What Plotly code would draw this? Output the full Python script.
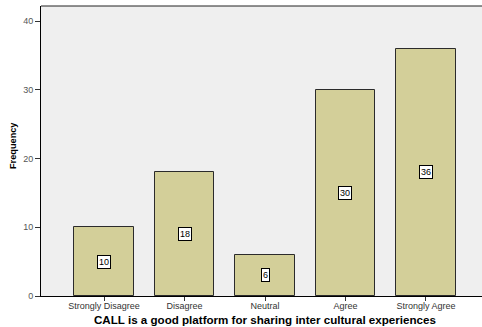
import plotly.graph_objects as go

# Survey responses
categories = ["Strongly Disagree", "Disagree", "Neutral", "Agree", "Strongly Agree"]
frequency = [10, 18, 6, 30, 36]
y_ticks = [0, 10, 20, 30, 40]

x_title = "CALL is a good platform for sharing inter cultural experiences"
y_title = "Frequency"

FONT = "Liberation Sans, Arial, sans-serif"
BAR_FILL = "#D3CF99"
PLOT_BG = "#EFEFEF"

xpos = list(range(len(categories)))

fig = go.Figure()
fig.add_trace(go.Bar(
    x=xpos,
    y=frequency,
    width=0.745,
    marker=dict(color=BAR_FILL, line=dict(color="#2b2b2b", width=1)),
    hoverinfo="skip",
))

# value labels boxed at mid-height of each bar
annotations = []
for xi, v in zip(xpos, frequency):
    annotations.append(dict(
        x=xi, y=v / 2, xref="x", yref="y", text=str(v), showarrow=False,
        font=dict(family=FONT, size=9, color="#000000"),
        bgcolor="#FFFFFF", bordercolor="#000000", borderwidth=1, borderpad=1,
    ))

# axis titles
annotations.append(dict(
    x=0.5, y=0, xref="paper", yref="paper", xshift=3, yshift=-23, yanchor="middle",
    text=f"<b>{x_title}</b>", showarrow=False,
    font=dict(family=FONT, size=11.6, color="#000000"),
))
annotations.append(dict(
    x=0, y=0.5, xref="paper", yref="paper", xshift=-28, yshift=5, xanchor="center",
    text=f"<b>{y_title}</b>", showarrow=False, textangle=-90,
    font=dict(family=FONT, size=9.2, color="#000000"),
))

fig.update_layout(
    width=482, height=327,
    margin=dict(l=41, r=0, t=6, b=31),
    paper_bgcolor="#FFFFFF",
    plot_bgcolor=PLOT_BG,
    showlegend=False,
    annotations=annotations,
    bargap=0,
)
fig.update_xaxes(
    range=[-0.783, 4.696],
    tickmode="array", tickvals=xpos, ticktext=categories,
    ticks="outside", ticklen=4, tickcolor="#333333", tickwidth=1,
    ticklabelstandoff=-3,
    tickfont=dict(family=FONT, size=9, color="#333333"),
    showgrid=False, zeroline=False,
    showline=True, linecolor="#000000", linewidth=1,
    fixedrange=True,
)
fig.update_yaxes(
    range=[0, 42.2],
    tickmode="array", tickvals=y_ticks,
    ticks="outside", ticklen=5, tickcolor="#333333", tickwidth=1,
    tickfont=dict(family=FONT, size=9, color="#555555"),
    showgrid=False, zeroline=False,
    showline=True, linecolor="#000000", linewidth=1,
    mirror=False,
    fixedrange=True,
)
# top border of the plot area
fig.add_shape(type="line", xref="paper", yref="paper", x0=0, x1=1, y0=1, y1=1,
              line=dict(color="#222222", width=1))

fig.write_html("out.html")
